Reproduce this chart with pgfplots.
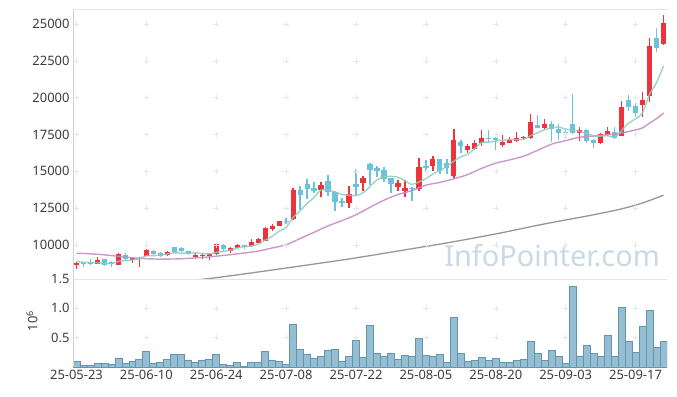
\documentclass[border=0pt]{standalone}
\usepackage{pgfplots}
\pgfplotsset{compat=1.18}
\usepackage{pgfplotstable}
\usepackage{fontspec}
\setmainfont{Noto Sans}

\definecolor{upred}{RGB}{236,52,58}
\definecolor{dnblue}{RGB}{108,194,218}
\definecolor{maA}{RGB}{140,204,190}
\definecolor{maB}{RGB}{200,140,198}
\definecolor{maC}{RGB}{150,150,150}
\definecolor{volfill}{RGB}{150,190,208}
\definecolor{voledge}{RGB}{95,150,180}
\definecolor{gridc}{RGB}{230,230,230}
\definecolor{framec}{RGB}{228,228,228}
\definecolor{leftc}{RGB}{210,210,210}
\definecolor{txt}{RGB}{60,60,60}
\definecolor{wm}{RGB}{200,218,228}

% up (red) candles: x open high low close
\pgfplotstableread{
x o h l c
0 8640 8830 8370 8800
3 8730 9210 8700 8980
6 8660 9440 8620 9370
8 8980 9210 8800 9140
9 9030 9210 8530 9100
10 9270 9750 9240 9680
13 9290 9560 9250 9520
17 9190 9440 9100 9340
18 9230 9440 9030 9300
19 9250 9440 8960 9370
20 9370 10120 9340 10070
22 9620 9840 9480 9770
23 9820 10050 9800 10000
25 9910 10380 9880 10220
26 10140 10450 10100 10410
27 10290 11200 10250 11130
28 11100 11430 10970 11270
29 11310 11650 11300 11630
31 11770 13850 11700 13730
35 13710 14300 13280 14070
39 12870 14000 12530 13440
41 14230 14700 13670 14550
46 13920 14410 13660 14230
47 13670 14410 13240 13890
49 13780 15890 13680 15320
51 15390 16040 15050 15840
54 14690 17860 14530 17130
56 16450 16860 16270 16720
57 16520 17130 16450 16950
58 16950 17810 16720 17290
61 16790 17480 16670 17010
62 16950 17350 16900 17130
63 17090 17650 16970 17290
64 17240 17420 17120 17310
65 17240 18870 17190 18370
67 17960 18560 17810 18220
72 17620 18040 17030 17810
75 16900 17600 16880 17540
76 17470 18000 17400 17740
78 17420 19800 17400 19390
81 19510 20410 18710 19850
82 20120 24060 19700 23510
84 23610 25610 23600 25050
}\candUp

% down (blue) candles: x open high low close
\pgfplotstableread{
x o h l c
1 8760 8870 8530 8700
2 8830 9030 8640 8730
4 9030 9080 8600 8660
5 8870 8900 8530 8690
7 9320 9440 8890 9030
11 9610 9650 9350 9390
12 9470 9500 9150 9250
14 9840 9860 9480 9510
15 9810 9840 9500 9560
16 9590 9620 9330 9390
21 10000 10050 9590 9750
24 10000 10030 9760 9890
30 11650 11800 11400 11550
32 13730 14000 12380 13390
33 14140 14480 13100 13800
34 13890 14250 13560 13670
36 14350 14750 13350 13580
37 13620 13650 12310 12940
38 12990 13180 12610 12850
40 14160 15160 13350 13940
42 15500 15550 14070 15090
43 15210 15370 14580 15050
44 15090 15320 14280 14480
45 14530 14550 13510 14140
48 13890 13920 12990 13820
50 15390 15770 15050 15230
52 15840 15840 14820 15050
53 15590 15840 14820 15210
55 17010 17130 16270 16720
59 17290 17810 17010 17200
60 17290 17350 16450 17130
66 18150 18810 17920 17960
68 18220 18430 17010 17860
69 17880 18200 17100 17620
70 17700 17950 17240 17650
71 18190 20230 17550 17620
73 17810 17860 16900 17090
74 17130 17200 16560 16900
77 17690 18010 17200 17290
79 19850 20190 19100 19390
80 19440 19630 18710 18980
83 24050 24710 23120 23400
}\candDn

% 5-day moving average
\pgfplotstableread{
x m
0 8870
1 8830
2 8800
3 8790
4 8774
5 8752
6 8886
7 8946
8 8978
9 9066
10 9264
11 9268
12 9312
13 9388
14 9470
15 9446
16 9446
17 9464
18 9420
19 9392
20 9494
21 9566
22 9652
23 9792
24 9896
25 9926
26 10058
27 10330
28 10584
29 10932
30 11198
31 11862
32 12314
33 12820
34 13228
35 13732
36 13702
37 13612
38 13422
39 13376
40 13350
41 13544
42 13974
43 14414
44 14622
45 14662
46 14598
47 14358
48 14112
49 14280
50 14498
51 14820
52 15052
53 15330
54 15692
55 15990
56 16166
57 16546
58 16962
59 16976
60 17058
61 17116
62 17152
63 17152
64 17174
65 17422
66 17612
67 17830
68 17944
69 18006
70 17862
71 17794
72 17712
73 17558
74 17414
75 17392
76 17416
77 17312
78 17772
79 18270
80 18558
81 18978
82 20222
83 21024
84 22156
}\maFive

% 20-day moving average
\pgfplotstableread{
x m
0 9440
2 9400
4 9330
6 9230
8 9130
10 9070
12 9040
14 9050
16 9090
18 9150
19 9190
20 9239
22 9344
24 9456
26 9585
28 9796
30 10016
32 10440
34 10862
36 11297
38 11655
40 12052
42 12558
44 13040
46 13427
48 13692
50 14061
52 14249
54 14493
56 14782
58 15205
60 15552
62 15777
64 16031
66 16429
68 16847
70 17083
72 17310
74 17393
76 17485
78 17607
80 17809
81 17951
82 18270
83 18575
84 18962
}\maTwenty

% long moving average (grey)
\pgfplotstableread{
x m
17 7620
20 7780
25 8100
32 8570
39 9050
46 9590
53 10140
60 10750
67 11430
74 12050
78 12450
81 12850
84 13380
}\maLong

% volume (millions)
\pgfplotstableread{
x v
0 0.10
1 0.03
2 0.03
3 0.06
4 0.06
5 0.05
6 0.15
7 0.06
8 0.10
9 0.13
10 0.27
11 0.06
12 0.085
13 0.13
14 0.22
15 0.22
16 0.12
17 0.085
18 0.12
19 0.13
20 0.22
21 0.045
22 0.03
23 0.08
24 0.01
25 0.08
26 0.08
27 0.27
28 0.12
29 0.10
30 0.045
31 0.73
32 0.30
33 0.22
34 0.15
35 0.18
36 0.28
37 0.30
38 0.10
39 0.18
40 0.45
41 0.165
42 0.71
43 0.23
44 0.18
45 0.23
46 0.13
47 0.20
48 0.18
49 0.49
50 0.20
51 0.18
52 0.22
53 0.08
54 0.85
55 0.23
56 0.10
57 0.11
58 0.165
59 0.11
60 0.15
61 0.08
62 0.08
63 0.11
64 0.13
65 0.44
66 0.23
67 0.11
68 0.28
69 0.18
70 0.06
71 1.375
72 0.18
73 0.37
74 0.23
75 0.18
76 0.54
77 0.18
78 1.02
79 0.44
80 0.25
81 0.69
82 0.97
83 0.335
84 0.44
}\volTab

\begin{document}
\begin{tikzpicture}[x=1bp,y=1bp]
\useasboundingbox (0,0) rectangle (677,396);
\node[text=wm, font=\fontsize{29}{29}\selectfont, anchor=center] at (552,140) {InfoPointer.com};

% ---------------- price panel ----------------
\begin{axis}[
  at={(73bp,117bp)}, anchor=south west, scale only axis,
  width=594bp, height=269bp,
  xmin=-0.5, xmax=84.5, ymin=7690, ymax=25950,
  axis line style={draw=none}, major tick length=0pt,
  scaled y ticks=false, scaled x ticks=false,
  xtick={0,10,...,80}, xticklabels={},
  ytick={10000,12500,15000,17500,20000,22500,25000},
  yticklabels={10000,12500,15000,17500,20000,22500,25000},
  yticklabel style={font=\fontsize{13}{13}\selectfont, text=txt},
  clip=true,
]
\addplot[only marks, mark=+, mark size=2.8bp, gridc, forget plot] coordinates {
(0,10000)(10,10000)(20,10000)(30,10000)(40,10000)(50,10000)(60,10000)(70,10000)(80,10000)
(0,12500)(10,12500)(20,12500)(30,12500)(40,12500)(50,12500)(60,12500)(70,12500)(80,12500)
(0,15000)(10,15000)(20,15000)(30,15000)(40,15000)(50,15000)(60,15000)(70,15000)(80,15000)
(0,17500)(10,17500)(20,17500)(30,17500)(40,17500)(50,17500)(60,17500)(70,17500)(80,17500)
(0,20000)(10,20000)(20,20000)(30,20000)(40,20000)(50,20000)(60,20000)(70,20000)(80,20000)
(0,22500)(10,22500)(20,22500)(30,22500)(40,22500)(50,22500)(60,22500)(70,22500)(80,22500)
(0,25000)(10,25000)(20,25000)(30,25000)(40,25000)(50,25000)(60,25000)(70,25000)(80,25000)
};
% wicks
\addplot[draw=none, mark=none, forget plot,
  error bars/.cd, y dir=plus, y explicit, error mark=none,
  error bar style={draw=upred, line width=1.3bp}]
  table[x=x, y=l, y error expr=\thisrow{h}-\thisrow{l}] {\candUp};
\addplot[draw=none, mark=none, forget plot,
  error bars/.cd, y dir=plus, y explicit, error mark=none,
  error bar style={draw=dnblue, line width=1.3bp}]
  table[x=x, y=l, y error expr=\thisrow{h}-\thisrow{l}] {\candDn};
% bodies
\addplot[draw=none, mark=none, forget plot,
  error bars/.cd, y dir=plus, y explicit, error mark=none,
  error bar style={draw=upred, line width=5.2bp}]
  table[x=x, y=o, y error expr={max(\thisrow{c}-\thisrow{o},40)}] {\candUp};
\addplot[draw=none, mark=none, forget plot,
  error bars/.cd, y dir=plus, y explicit, error mark=none,
  error bar style={draw=dnblue, line width=5.2bp}]
  table[x=x, y=c, y error expr={max(\thisrow{o}-\thisrow{c},40)}] {\candDn};
% moving averages
\addplot[maC, line width=1.3bp, smooth, mark=none] table[x=x, y=m] {\maLong};
\addplot[maB, line width=1.4bp, smooth, mark=none, opacity=0.9] table[x=x, y=m] {\maTwenty};
\addplot[maA, line width=1.4bp, smooth, mark=none, opacity=0.85] table[x=x, y=m] {\maFive};
% frame
\draw[framec, line width=1bp] (rel axis cs:0,1) -- (rel axis cs:1,1) -- (rel axis cs:1,0);
\draw[leftc, line width=1bp] (rel axis cs:0,0) -- (rel axis cs:0,1);
\end{axis}

% ---------------- volume panel ----------------
\begin{axis}[
  at={(73bp,29bp)}, anchor=south west, scale only axis,
  width=594bp, height=88bp,
  xmin=-0.5, xmax=84.5, ymin=0, ymax=1.5,
  axis line style={draw=none}, major tick length=0pt,
  scaled y ticks=false, scaled x ticks=false,
  xtick={0,10,...,80},
  xticklabels={25-05-23,25-06-10,25-06-24,25-07-08,25-07-22,25-08-05,25-08-20,25-09-03,25-09-17},
  xticklabel style={font=\fontsize{13}{13}\selectfont, text=txt},
  ytick={0.5,1,1.5}, yticklabels={0.5,1.0,1.5},
  yticklabel style={font=\fontsize{13}{13}\selectfont, text=txt},
  clip=true,
]
\addplot[only marks, mark=+, mark size=2.8bp, gridc, forget plot] coordinates {
(0,0.5)(10,0.5)(20,0.5)(30,0.5)(40,0.5)(50,0.5)(60,0.5)(70,0.5)(80,0.5)
(0,1)(10,1)(20,1)(30,1)(40,1)(50,1)(60,1)(70,1)(80,1)
};
\addplot[ybar, bar width=1, fill=volfill, draw=voledge, line width=0.8bp] table[x=x, y=v] {\volTab};
\draw[framec, line width=2bp] (rel axis cs:0,1) -- (rel axis cs:1,1);
\draw[framec, line width=1bp] (rel axis cs:1,1) -- (rel axis cs:1,0);
\draw[leftc, line width=1bp] (rel axis cs:0,0) -- (rel axis cs:0,1);
\end{axis}

\node[text=txt, font=\fontsize{13}{13}\selectfont, rotate=90] at (32,75) {10\textsuperscript{6}};
\end{tikzpicture}
\end{document}
